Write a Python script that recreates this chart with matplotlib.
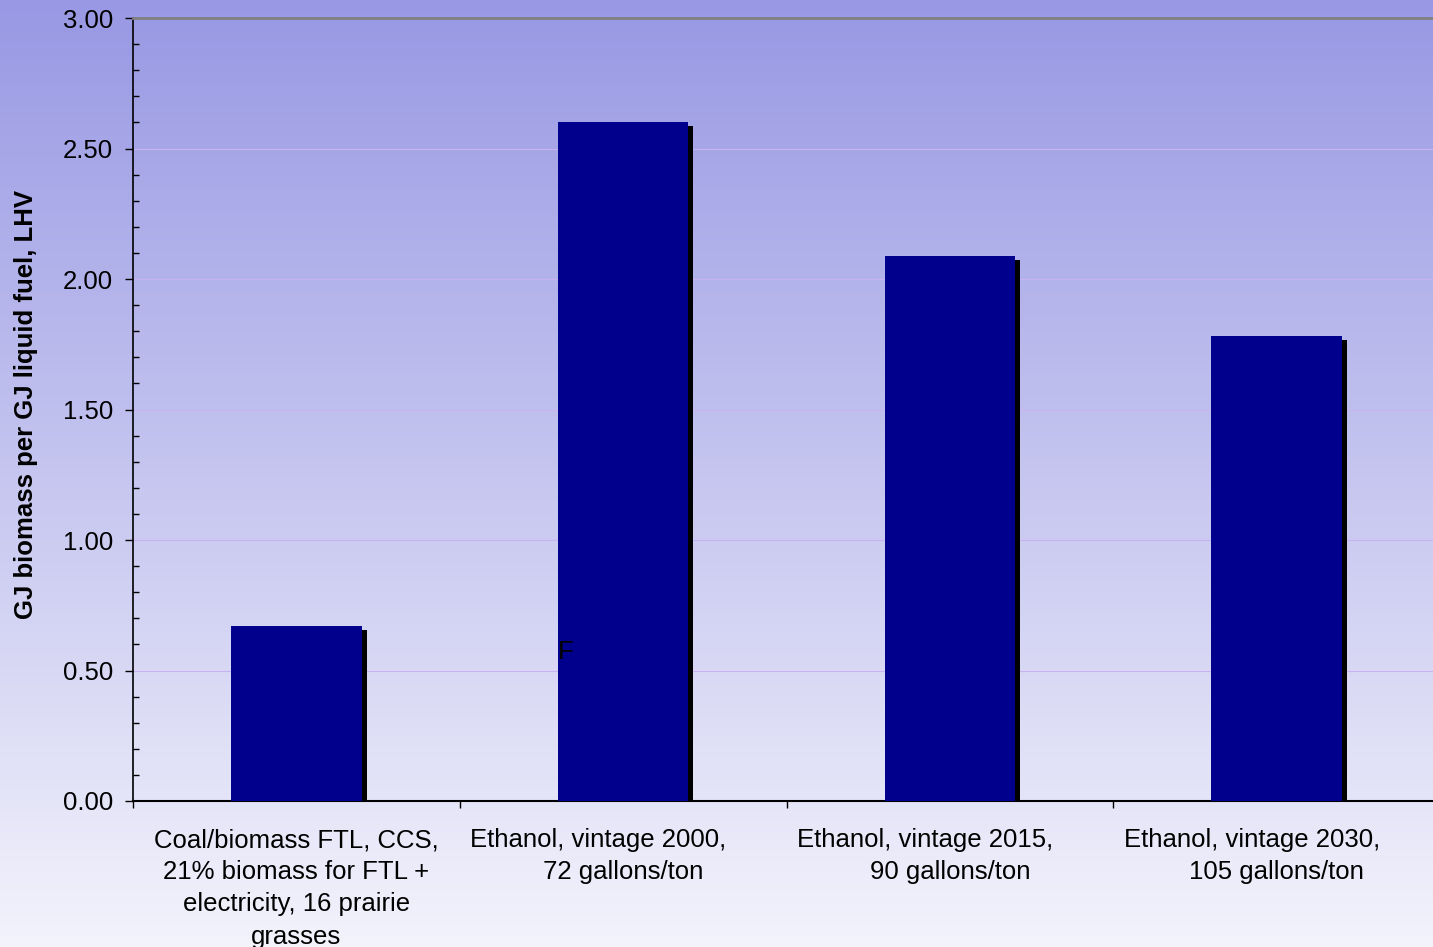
import matplotlib
matplotlib.use("Agg")
import matplotlib.pyplot as plt
import matplotlib.patheffects as pe
from matplotlib.ticker import MultipleLocator, FormatStrFormatter
import numpy as np

plt.rcParams['font.family'] = ['Liberation Sans', 'DejaVu Sans']

# data
categories = [
    "Coal/biomass FTL, CCS,\n21% biomass for FTL +\nelectricity, 16 prairie\ngrasses",
    "Ethanol, vintage 2000,       \n72 gallons/ton",
    "Ethanol, vintage 2015,       \n90 gallons/ton",
    "Ethanol, vintage 2030,       \n105 gallons/ton",
]
values = [0.67, 2.60, 2.09, 1.78]
ylabel = "GJ biomass per GJ liquid fuel, LHV"

fig = plt.figure(figsize=(14.33, 9.47), dpi=100)

# gradient background over the whole figure
bg = fig.add_axes([0, 0, 1, 1], zorder=-10)
top = np.array([152, 152, 228]) / 255
bot = np.array([243, 243, 252]) / 255
t = np.linspace(0, 1, 256)[:, None]
grad = (top[None, :] * (1 - t) + bot[None, :] * t)[:, None, :]
bg.imshow(grad, aspect='auto', extent=[0, 1, 0, 1], origin='upper')
bg.axis('off')

# plot area runs a little past the right edge of the figure
ax = fig.add_axes([133 / 1433, 1 - 801 / 947, 1307 / 1433, (801 - 18) / 947])
ax.set_facecolor('none')

x = np.arange(len(values))
bars = ax.bar(x, values, width=0.40, color='#00008C', zorder=3)
for b in bars:
    b.set_path_effects([pe.SimplePatchShadow(offset=(3.6, -2.9), shadow_rgbFace='black', alpha=1.0),
                        pe.Normal()])

ax.set_xlim(-0.5, 3.5)
ax.set_ylim(0, 3.0)

# gridlines
for g in [0.5, 1.0, 1.5, 2.0, 2.5]:
    ax.axhline(g, color='#C9B2F2', lw=0.8, zorder=1)

ax.yaxis.set_major_locator(MultipleLocator(0.5))
ax.yaxis.set_minor_locator(MultipleLocator(0.1))
ax.yaxis.set_major_formatter(FormatStrFormatter('%.2f'))
ax.tick_params(axis='y', which='major', direction='out', length=5.8, width=1, labelsize=18.5, pad=8.6)
ax.tick_params(axis='y', which='minor', direction='in', length=4.3, width=1)

ax.set_xticks([-0.5, 0.5, 1.5, 2.5])
ax.set_xticklabels([])
ax.set_xticks(x, minor=True)
ax.set_xticklabels(categories, minor=True, fontsize=18.5, linespacing=1.43)
ax.tick_params(axis='x', which='major', direction='out', length=5, width=1)
ax.tick_params(axis='x', which='minor', length=0, pad=19.5)

ax.spines['right'].set_visible(False)
ax.spines['top'].set_color('#808080')
ax.spines['top'].set_linewidth(2)
ax.spines['left'].set_linewidth(1.2)
ax.spines['bottom'].set_linewidth(1.5)

ax.set_ylabel(ylabel, fontsize=18.5, fontweight='bold')
ax.yaxis.set_label_coords(-0.0725, 0.506)

ax.text(0.80, 0.57, 'F', fontsize=18.5, va='center', ha='left', zorder=5)

fig.savefig('out.png', dpi=100)
